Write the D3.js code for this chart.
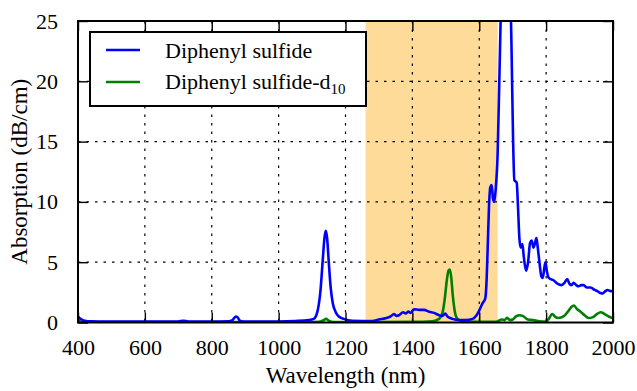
<!DOCTYPE html>
<html lang="en">
<head>
    <meta charset="UTF-8">
    <title>Absorption spectrum</title>
    <style>
        body { margin: 0; background: #fff; }
        svg text { font-family: "Liberation Serif", "DejaVu Serif", serif; fill: #000; }
    </style>
</head>
<body>
    <svg id="chart" width="637" height="391"></svg>

    <script src="https://cdnjs.cloudflare.com/ajax/libs/d3/7.8.5/d3.min.js"></script>
    <script>
        // Diphenyl sulfide (blue)
        var wlH = [400, 405, 410, 420, 440, 500, 600, 700, 715, 730, 800, 850, 862, 868, 873, 878, 884, 895,
            1000, 1050, 1090, 1105, 1115, 1125, 1132, 1137, 1141, 1145, 1150, 1156, 1162, 1170, 1180, 1195,
            1220, 1280, 1300, 1320, 1335, 1345, 1352, 1360, 1372, 1380, 1388, 1395, 1405, 1420, 1435, 1450,
            1465, 1480, 1490, 1498, 1505, 1520, 1540, 1560, 1580, 1592, 1600, 1610, 1618, 1622, 1625, 1629,
            1633, 1637, 1641, 1645, 1649, 1655, 1660, 1668, 1680, 1690, 1697, 1701, 1705, 1712, 1716, 1720,
            1724, 1729, 1733, 1740, 1746, 1752, 1757, 1762, 1766, 1771, 1775, 1780, 1786, 1790, 1795, 1798,
            1802, 1808, 1822, 1835, 1845, 1855, 1863, 1870, 1876, 1882, 1890, 1897, 1905, 1912, 1922, 1933,
            1945, 1953, 1962, 1968, 1975, 1984, 1992, 2000];
        var absH = [0.5, 0.35, 0.25, 0.15, 0.1, 0.08, 0.07, 0.08, 0.15, 0.08, 0.08, 0.1, 0.2, 0.4, 0.5, 0.4, 0.15, 0.08,
            0.08, 0.12, 0.2, 0.3, 0.8, 2.6, 5.2, 7.0, 7.6, 7.0, 5.0, 2.8, 1.6, 0.9, 0.5, 0.3,
            0.15, 0.12, 0.25, 0.35, 0.5, 0.7, 0.55, 0.6, 0.85, 0.75, 0.9, 0.8, 1.1, 1.05, 1.05, 0.9,
            0.8, 0.6, 0.55, 0.75, 0.5, 0.3, 0.2, 0.2, 0.3, 0.6, 1.0, 1.6, 2.0, 3.5, 6, 9.5,
            11.2, 11.4, 10.3, 10.0, 11.0, 14, 20, 30, 38, 32, 22, 15.4, 11.8, 11.6, 9.5, 7.0,
            6.2, 6.5, 5.5, 4.3, 5.0, 6.6, 6.8, 6.2, 6.5, 7.0, 6.2, 5.0, 3.8, 3.7, 4.6, 5.0,
            4.3, 3.7, 3.5, 3.2, 3.1, 3.3, 3.6, 3.2, 3.1, 3.3, 3.1, 3.0, 3.1, 3.1, 2.9, 2.9,
            2.7, 2.6, 2.45, 2.4, 2.55, 2.7, 2.6, 2.6];

        // Diphenyl sulfide-d10 (green)
        var wlD = [400, 410, 500, 700, 900, 1100, 1120, 1135, 1142, 1150, 1165, 1400, 1460, 1480, 1490, 1497,
            1503, 1508, 1512, 1516, 1521, 1527, 1535, 1550, 1650, 1668, 1676, 1683, 1692, 1700, 1710, 1720,
            1730, 1745, 1760, 1780, 1798, 1808, 1818, 1828, 1837, 1852, 1865, 1876, 1883, 1893, 1903, 1915,
            1927, 1940, 1952, 1963, 1975, 1987, 2000];
        var absD = [0.15, 0.05, 0.03, 0.03, 0.03, 0.04, 0.05, 0.2, 0.3, 0.15, 0.04, 0.05, 0.1, 0.3, 0.8, 2.0,
            3.5, 4.3, 4.4, 3.8, 2.2, 0.9, 0.3, 0.08, 0.05, 0.25, 0.2, 0.4, 0.2, 0.25, 0.5, 0.6,
            0.55, 0.25, 0.2, 0.1, 0.07, 0.3, 0.7, 0.45, 0.37, 0.5, 0.9, 1.3, 1.4, 1.1, 0.9, 0.6,
            0.37, 0.45, 0.7, 0.85, 0.7, 0.5, 0.35];

        var band = [1260, 1655];
        var xTicks = [400, 600, 800, 1000, 1200, 1400, 1600, 1800, 2000];
        var yTicks = [0, 5, 10, 15, 20, 25];

        var svg = d3.select("#chart");
        var pL = 78, pR = 613, pT = 21, pB = 322.5;

        var x = d3.scaleLinear().domain([400, 2000]).range([pL, pR]);
        var y = d3.scaleLinear().domain([0, 25]).range([pB, pT]);

        svg.append("defs").append("clipPath").attr("id", "plot")
            .append("rect").attr("x", pL).attr("y", pT)
            .attr("width", pR - pL).attr("height", pB - pT);

        // highlighted band
        svg.append("rect")
            .attr("x", x(band[0])).attr("y", pT)
            .attr("width", x(band[1]) - x(band[0])).attr("height", pB - pT)
            .attr("fill", "rgb(255,219,153)");

        // grid
        var grid = svg.append("g").attr("stroke", "#000").attr("stroke-width", 1.2)
            .attr("stroke-dasharray", "2.5,6");
        grid.selectAll(".gx").data(xTicks.slice(1, -1)).enter().append("line")
            .attr("x1", d => x(d)).attr("x2", d => x(d)).attr("y1", pT).attr("y2", pB);
        grid.selectAll(".gy").data(yTicks.slice(1, -1)).enter().append("line")
            .attr("y1", d => y(d)).attr("y2", d => y(d)).attr("x1", pL).attr("x2", pR);

        // spectra
        var lineH = d3.line().x((d, i) => x(wlH[i])).y(d => y(d)).curve(d3.curveMonotoneX);
        var lineD = d3.line().x((d, i) => x(wlD[i])).y(d => y(d)).curve(d3.curveMonotoneX);

        var plot = svg.append("g").attr("clip-path", "url(#plot)");
        plot.append("path").attr("d", lineD(absD)).attr("fill", "none")
            .attr("stroke", "#008000").attr("stroke-width", 2.6).attr("stroke-linejoin", "round");
        plot.append("path").attr("d", lineH(absH)).attr("fill", "none")
            .attr("stroke", "#0000ff").attr("stroke-width", 2.6).attr("stroke-linejoin", "round");

        // axes, ticks pointing inward
        var tl = 10;
        var axB = svg.append("g").attr("transform", "translate(0," + pB + ")")
            .call(d3.axisBottom(x).tickValues(xTicks).tickSize(-tl).tickPadding(tl + 7).tickFormat(d3.format("d")));
        var axT = svg.append("g").attr("transform", "translate(0," + pT + ")")
            .call(d3.axisTop(x).tickValues(xTicks).tickSize(-tl).tickFormat(""));
        var axL = svg.append("g").attr("transform", "translate(" + pL + ",0)")
            .call(d3.axisLeft(y).tickValues(yTicks).tickSize(-tl).tickPadding(tl + 10));
        var axR = svg.append("g").attr("transform", "translate(" + pR + ",0)")
            .call(d3.axisRight(y).tickValues(yTicks).tickSize(-tl).tickFormat(""));

        [axB, axT, axL, axR].forEach(function (a) {
            a.select(".domain").remove();
            a.selectAll(".tick line").attr("stroke", "#000").attr("stroke-width", 1.4);
            a.selectAll("text").style("font-family", "Liberation Serif, serif").style("font-size", "22px").attr("fill", "#000");
        });

        svg.append("rect").attr("x", pL).attr("y", pT)
            .attr("width", pR - pL).attr("height", pB - pT)
            .attr("fill", "none").attr("stroke", "#000").attr("stroke-width", 2);

        // axis labels
        svg.append("text").attr("x", (pL + pR) / 2).attr("y", 383)
            .attr("text-anchor", "middle").style("font-size", "23px").text("Wavelength (nm)");
        svg.append("text").attr("transform", "translate(27," + (pT + pB) / 2 + ") rotate(-90)")
            .attr("text-anchor", "middle").style("font-size", "23px").text("Absorption (dB/cm)");

        // legend
        var lg = svg.append("g");
        lg.append("rect").attr("x", 90).attr("y", 32).attr("width", 276).attr("height", 74)
            .attr("fill", "#fff").attr("stroke", "#000").attr("stroke-width", 2);
        var items = [{ c: "#0000ff", y: 50 }, { c: "#008000", y: 82 }];
        lg.selectAll(".ll").data(items).enter().append("line")
            .attr("x1", 106).attr("x2", 140).attr("y1", d => d.y).attr("y2", d => d.y)
            .attr("stroke", d => d.c).attr("stroke-width", 2.6);
        lg.append("text").attr("x", 165).attr("y", 58).style("font-size", "22px").text("Diphenyl sulfide");
        var t2 = lg.append("text").attr("x", 165).attr("y", 89).style("font-size", "22px");
        t2.append("tspan").text("Diphenyl sulfide-d");
        t2.append("tspan").attr("dy", 5).style("font-size", "15px").text("10");
    </script>
</body>
</html>
